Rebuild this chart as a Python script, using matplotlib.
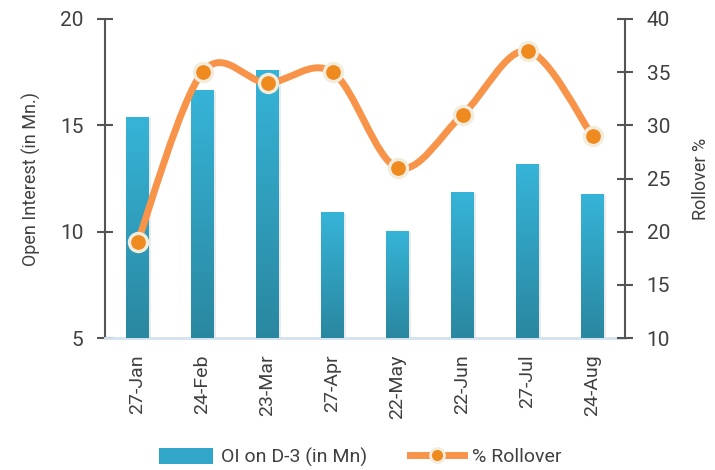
import matplotlib
matplotlib.use("Agg")
import matplotlib.pyplot as plt
import numpy as np
from matplotlib.path import Path
from matplotlib.patches import PathPatch, Patch
from matplotlib.lines import Line2D
from matplotlib.colors import LinearSegmentedColormap

categories = ["27-Jan", "24-Feb", "23-Mar", "27-Apr", "22-May", "22-Jun", "27-Jul", "24-Aug"]
oi_values = [15.35, 16.63, 17.6, 10.9, 10.0, 11.82, 13.14, 11.73]
rollover = [19, 35, 34, 35, 26, 31, 37, 29]

plt.rcParams['font.family'] = ['Roboto', 'DejaVu Sans']
TXT = '#404040'

fig = plt.figure(figsize=(7.15, 4.70), dpi=100)
ax = fig.add_axes([105/715, (470-338)/470, 520/715, (338-19)/470])
ax2 = ax.twinx()

x = np.arange(len(categories))
w = 0.35
cmap = LinearSegmentedColormap.from_list('g', ['#2a87a0', '#36b4d8'])
grad = np.linspace(0, 1, 256).reshape(-1, 1)
bars = ax.bar(x, [v - 5 for v in oi_values], bottom=5, width=w, color='#31a6c9', zorder=2)
for xi, v in zip(x, oi_values):
    ax.bar(xi + 0.03, v - 5 + 0.05, bottom=4.95, width=w, color='#000000', alpha=0.08, zorder=1)
    ax.imshow(grad, cmap=cmap, origin='lower', aspect='auto',
              extent=[xi - w/2, xi + w/2, 5, v], zorder=3)

ax.set_xlim(-0.5, len(categories) - 0.5)
ax.set_ylim(5, 20)
ax2.set_ylim(10, 40)

# smooth curve (Catmull-Rom via cubic Bezier)
pts = np.column_stack([x, rollover]).astype(float)
verts = [tuple(pts[0])]
codes = [Path.MOVETO]
n = len(pts)
for i in range(n - 1):
    p0 = pts[i - 1] if i > 0 else pts[i]
    p1 = pts[i]
    p2 = pts[i + 1]
    p3 = pts[i + 2] if i + 2 < n else pts[i + 1]
    c1 = p1 + (p2 - p0) / 6
    c2 = p2 - (p3 - p1) / 6
    verts += [tuple(c1), tuple(c2), tuple(p2)]
    codes += [Path.CURVE4] * 3
path = Path(verts, codes)
ax2.add_patch(PathPatch(path, facecolor='none', edgecolor='#f7944a', lw=5, zorder=4,
                        capstyle='round'))
ax2.plot(x, rollover, linestyle='none', marker='o', markersize=13, markerfacecolor='#ef8a1e',
         markeredgecolor='#f1ecdc', markeredgewidth=2.4, zorder=5)

for a in (ax, ax2):
    a.spines['top'].set_visible(False)
ax.spines['right'].set_visible(False)
ax2.spines['left'].set_visible(False)
ax2.spines['bottom'].set_visible(False)
ax.spines['left'].set_color('#555555')
ax2.spines['right'].set_color('#555555')
ax.spines['left'].set_linewidth(1.5)
ax2.spines['right'].set_linewidth(1.5)
ax.spines['bottom'].set_color('#d3e2f0')
ax.spines['bottom'].set_linewidth(2)

ax.set_yticks([5, 10, 15, 20])
ax2.set_yticks([10, 15, 20, 25, 30, 35, 40])
ax.tick_params(axis='y', direction='inout', length=11, width=1.5, color='#555555',
               labelsize=15, labelcolor=TXT, pad=10)
ax2.tick_params(axis='y', direction='inout', length=11, width=1.5, color='#555555',
                labelsize=15, labelcolor=TXT, pad=10)
ax.set_xticks(x)
ax.set_xticklabels(categories, rotation=90, fontsize=14, color=TXT)
ax.tick_params(axis='x', length=0, pad=12)

ax.set_ylabel('Open Interest (in Mn.)', fontsize=13, color=TXT, labelpad=14)
ax2.set_ylabel('Rollover %', fontsize=13, color=TXT, labelpad=16)

handles = [Patch(facecolor='#31a6c9'),
           Line2D([0], [0], color='#f7944a', lw=5, marker='o', markersize=10,
                  markerfacecolor='#ef8a1e', markeredgecolor='#f1ecdc', markeredgewidth=2)]
fig.legend(handles, ['OI on D-3 (in Mn)', '% Rollover'], loc='center',
           bbox_to_anchor=(360/715, 1 - 457/470), ncol=2, frameon=False, fontsize=14,
           labelcolor=TXT, handlelength=2.8, handleheight=0.9, columnspacing=2.2,
           handletextpad=0.4)

fig.savefig('out.png', dpi=100)
